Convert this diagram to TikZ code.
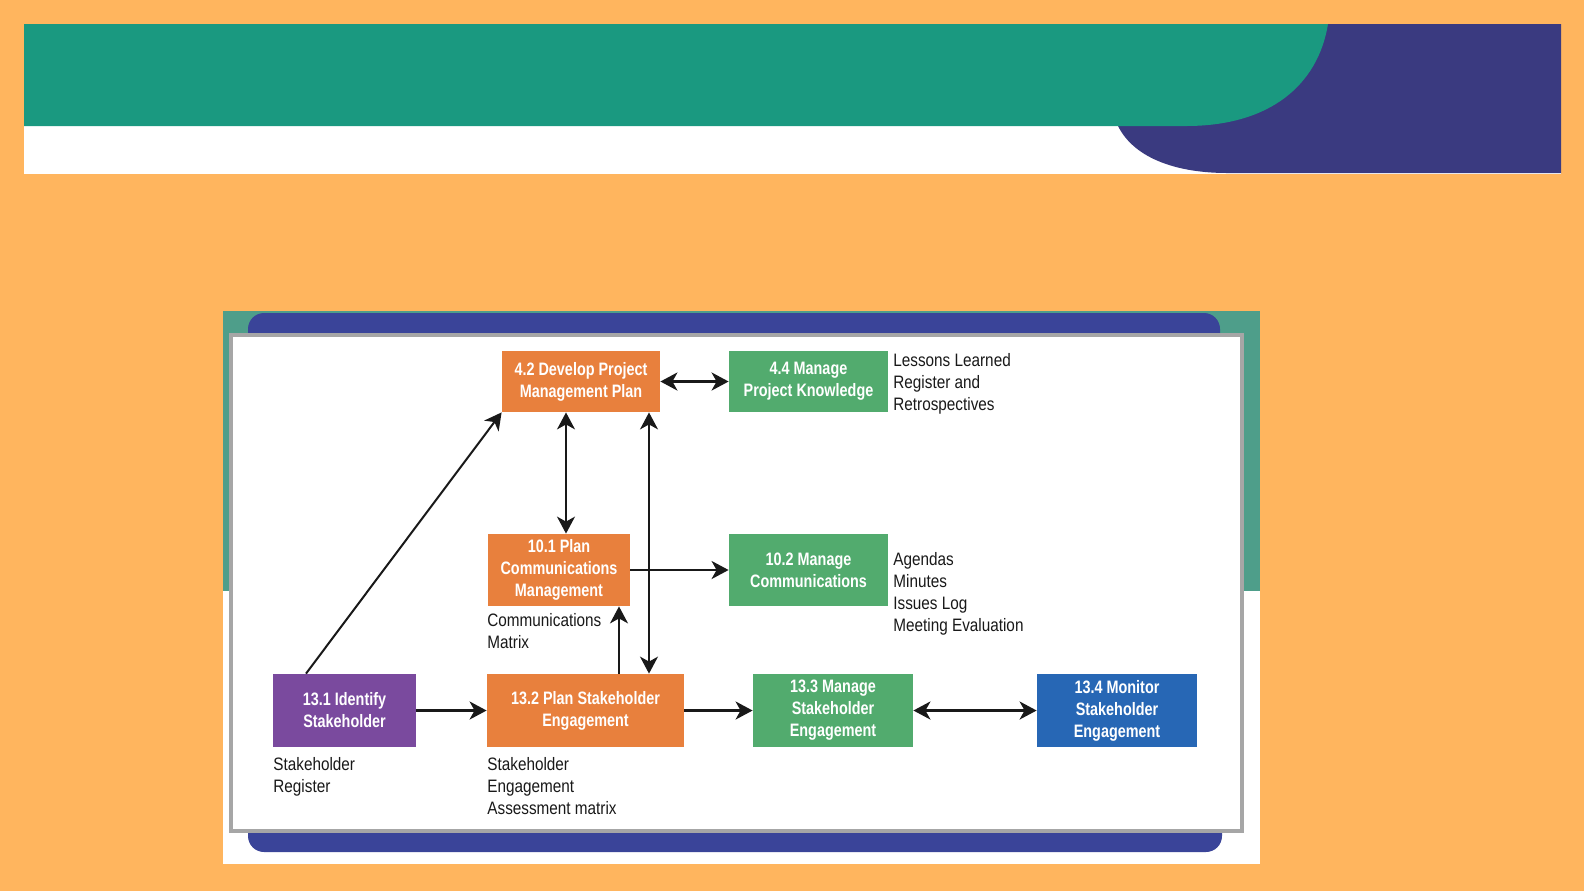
\documentclass[tikz,border=0pt]{standalone}
\usepackage{fontspec}
\setmainfont{Liberation Sans}[FakeStretch=0.85]
\newfontfamily\boxfont{Liberation Sans}[FakeStretch=0.8]
\usepackage{tikz}
\usetikzlibrary{arrows.meta,positioning}
\definecolor{pageorange}{HTML}{FFB55E}
\definecolor{headteal}{HTML}{1A9980}
\definecolor{headnavy}{HTML}{3A3A80}
\definecolor{panelteal}{HTML}{4E9E8A}
\definecolor{barnavy}{HTML}{3A4499}
\definecolor{panelgray}{HTML}{A6A6A6}
\definecolor{procorange}{HTML}{E8803D}
\definecolor{procgreen}{HTML}{52AB6E}
\definecolor{procpurple}{HTML}{7A4A9E}
\definecolor{procblue}{HTML}{2767B5}

\begin{document}
\begin{tikzpicture}[
  x=0.5pt, y=-0.5pt,
  every node/.style={font=\fontsize{9}{11}\selectfont},
  proc/.style={inner sep=0pt, align=center, text=white,
               font=\boxfont\bfseries\fontsize{9}{11}\selectfont},
  note/.style={anchor=north west, inner sep=0pt, align=left, text=black!90},
  arrow/.style={-{Stealth[length=8.5pt,width=9pt,inset=2.5pt]}, line width=1pt, draw=black!90},
  dblarrow/.style={{Stealth[length=8.5pt,width=9pt,inset=2.5pt]}-{Stealth[length=8.5pt,width=9pt,inset=2.5pt]},
                   line width=1pt, draw=black!90},
  flat/.style={line width=1.4pt},
]
\useasboundingbox (0,0) rectangle (1584,891);
\fill[pageorange] (0,0) rectangle (1584,891);

%% -- Header band -----------------------------------------------------------
\fill[white] (24,24) rectangle (1561,174);
\fill[headnavy] (1118,24) -- (1561,24) -- (1561,173) -- (1227,173)
  .. controls (1180,173) and (1135,160) .. (1118,126) -- cycle;
\fill[headteal] (24,24) -- (1328,24)
  .. controls (1318,85) and (1270,126) .. (1186,126) -- (24,126) -- cycle;

%% -- Panel -----------------------------------------------------------------
\fill[white] (223,311) rectangle (1260,864);
\fill[panelteal] (223,311) rectangle (1260,591);
\fill[barnavy, rounded corners=8pt] (248,313) rectangle (1220,350);
\fill[barnavy, rounded corners=8pt] (248,815) rectangle (1222,852);
\filldraw[fill=white, draw=panelgray, line width=2pt] (230.5,334.5) rectangle (1242,831);

%% -- Processes -------------------------------------------------------------
\node[proc, fill=procorange, minimum width=79pt, minimum height=30.5pt]
  (devplan) at (581,381.5) {4.2 Develop Project\\Management Plan};
\node[proc, fill=procgreen, minimum width=79.5pt, minimum height=30.5pt]
  (knowledge) at (808.5,381.5) {4.4 Manage\\Project Knowledge};
\node[proc, fill=procorange, minimum width=71pt, minimum height=36pt]
  (plancomm) at (559,570) {10.1 Plan\\Communications\\Management};
\node[proc, fill=procgreen, minimum width=79.5pt, minimum height=36pt]
  (managecomm) at (808.5,570) {10.2 Manage\\Communications};
\node[proc, fill=procpurple, minimum width=71.5pt, minimum height=36.5pt]
  (identify) at (344.5,710.5) {13.1 Identify\\Stakeholder};
\node[proc, fill=procorange, minimum width=98.5pt, minimum height=36.5pt]
  (planeng) at (585.5,710.5) {13.2 Plan Stakeholder\\Engagement};
\node[proc, fill=procgreen, minimum width=80pt, minimum height=36.5pt]
  (manageeng) at (833,710.5) {13.3 Manage\\Stakeholder\\Engagement};
\node[proc, fill=procblue, minimum width=80pt, minimum height=36.5pt]
  (monitor) at (1117,710.5) {13.4 Monitor\\Stakeholder\\Engagement};

%% -- Outputs ---------------------------------------------------------------
\node[note] (lessons) at (893,353) {Lessons Learned\\Register and\\Retrospectives};
\node[note] (agendas) at (893,552) {Agendas\\Minutes\\Issues Log\\Meeting Evaluation};
\node[note] (commmatrix) at (487,613) {Communications\\Matrix};
\node[note] (register) at (273,757) {Stakeholder\\Register};
\node[note] (assessment) at (487,757) {Stakeholder\\Engagement\\Assessment matrix};

%% -- Flows -----------------------------------------------------------------
\draw[arrow] ([xshift=-19.25pt]identify.north) -- (devplan.south west);
\draw[dblarrow] ([xshift=-7.5pt]devplan.south) -- ([xshift=-7.5pt]devplan.south |- plancomm.north);
\draw[dblarrow] ([xshift=34pt]devplan.south) -- ([xshift=34pt]devplan.south |- planeng.north);
\draw[arrow] ([xshift=16.75pt]planeng.north) -- ([xshift=16.75pt]planeng.north |- plancomm.south);
\draw[arrow, flat] (plancomm.east) -- (managecomm.west);
\draw[dblarrow, flat] (devplan.east) -- (knowledge.west);
\draw[arrow, flat] (identify.east) -- (planeng.west);
\draw[arrow, flat] (planeng.east) -- (manageeng.west);
\draw[dblarrow, flat] (manageeng.east) -- (monitor.west);

\end{tikzpicture}
\end{document}
